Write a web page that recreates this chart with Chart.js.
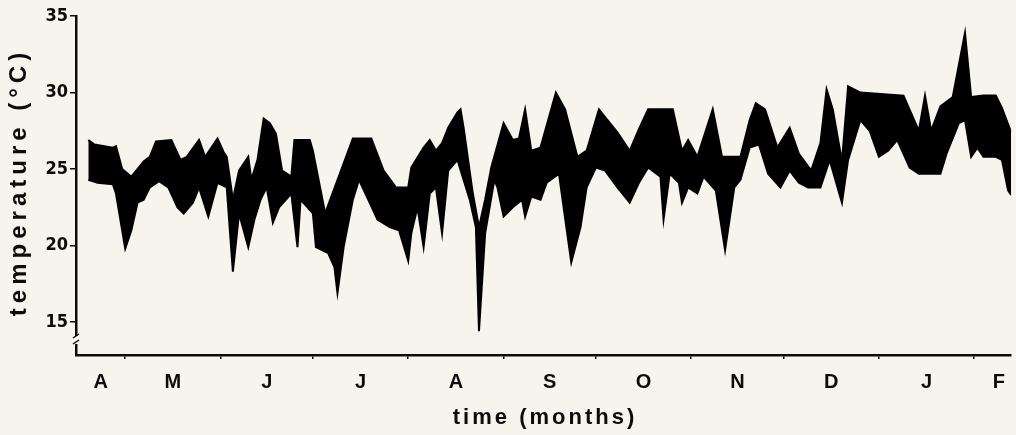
<!DOCTYPE html>
<html>
<head>
<meta charset="utf-8">
<script src="https://cdn.jsdelivr.net/npm/chart.js@4"></script>
<style>
  html, body { margin: 0; padding: 0; background: #f6f4ec; }
  #wrap { width: 1016px; height: 435px; }
</style>
</head>
<body>
<div id="wrap"><canvas id="chart"></canvas></div>
<script>
// days counted from 1 April (day 0); temperatures in °C
const upperDays = [18, 20, 26, 27, 29, 32, 36, 38, 40, 45, 48, 50, 54, 56, 60, 62, 63, 65, 67, 70, 71, 73, 75, 77, 79, 81, 84, 85, 90, 91, 95, 104, 110, 114, 118, 122, 123, 127, 129, 131, 133, 135, 138, 139, 140, 143, 145, 147, 149, 153, 156, 158, 160, 162, 165, 170, 173, 177, 180, 184, 186, 190, 194, 197, 200, 208, 211, 213, 216, 221, 224, 230, 233, 235, 238, 242, 246, 249, 253, 256, 258, 260, 263, 265, 269, 283, 288, 290, 292, 295, 299, 303, 305, 309, 313, 315, 318];
const upperTemps = [26.9, 26.6, 26.4, 26.5, 25.0, 24.5, 25.5, 25.8, 26.8, 26.9, 25.6, 25.8, 26.9, 25.8, 27.0, 26.1, 25.8, 23.0, 24.9, 25.8, 24.3, 25.6, 28.3, 28.0, 27.3, 24.9, 24.5, 26.9, 26.9, 26.2, 22.1, 27.0, 27.0, 24.9, 23.8, 23.8, 25.1, 26.4, 26.9, 26.2, 26.7, 27.7, 28.7, 28.9, 27.7, 23.4, 21.2, 23.0, 25.1, 28.0, 26.9, 27.0, 28.9, 26.2, 26.4, 30.0, 28.9, 25.8, 26.2, 28.9, 28.4, 27.4, 26.2, 27.6, 28.9, 28.9, 26.2, 26.9, 25.8, 28.9, 25.8, 25.8, 28.2, 29.3, 28.9, 26.4, 27.7, 26.0, 24.9, 26.7, 30.2, 28.9, 25.5, 30.4, 30.0, 29.8, 27.5, 29.8, 27.5, 29.1, 29.7, 33.9, 29.7, 29.8, 29.8, 29.0, 27.4];

const lowerDays = [18, 21, 26, 27, 30, 32, 34, 36, 38, 41, 44, 47, 49, 52, 54, 57, 60, 63, 65, 67, 70, 72, 74, 76, 78, 80, 84, 86, 87, 91, 92, 96, 98, 99, 101, 104, 106, 109, 112, 116, 119, 122, 123, 125, 127, 129, 131, 133, 135, 138, 142, 144, 145, 147, 150, 151, 153, 156, 159, 160, 162, 165, 167, 171, 175, 178, 180, 183, 186, 190, 194, 197, 200, 204, 205, 207, 210, 211, 213, 216, 218, 222, 225, 228, 230, 233, 236, 239, 243, 246, 249, 252, 256, 259, 263, 265, 269, 272, 275, 278, 281, 285, 288, 295, 297, 301, 303, 305, 307, 309, 313, 315, 317, 318];
const lowerTemps = [24.3, 24.1, 24.0, 23.4, 19.8, 21.0, 22.8, 23.0, 23.8, 24.2, 23.8, 22.5, 22.1, 22.8, 23.8, 21.9, 24.1, 23.8, 18.3, 22.1, 19.9, 21.7, 23.0, 23.8, 21.5, 22.5, 23.4, 19.9, 23.0, 22.1, 19.9, 19.5, 18.6, 16.9, 19.9, 23.0, 24.3, 23.0, 21.7, 21.2, 21.0, 19.0, 20.8, 22.5, 19.9, 23.4, 23.8, 20.8, 24.9, 25.6, 23.0, 21.2, 14.4, 20.8, 24.3, 23.8, 21.9, 22.5, 23.0, 21.9, 23.2, 23.0, 24.1, 24.7, 18.9, 21.2, 23.8, 25.1, 24.9, 23.8, 22.8, 24.1, 25.1, 24.5, 21.7, 24.7, 24.1, 22.8, 23.8, 23.4, 24.5, 23.6, 19.7, 23.8, 24.3, 26.4, 26.6, 24.7, 23.8, 24.9, 24.1, 23.8, 23.8, 25.6, 22.8, 25.6, 28.2, 27.5, 25.8, 26.2, 26.9, 25.1, 24.7, 24.7, 26.0, 28.0, 28.2, 25.8, 26.4, 25.8, 25.8, 25.6, 23.6, 23.3];

// month boundaries (tick marks) and month label positions
const monthStarts = [30, 61, 91, 122, 153, 183, 214, 244, 275, 306];
const monthMids = [22, 45.5, 76, 106.5, 137.5, 168, 198.5, 229, 259.5, 290.5, 314];
const monthLabels = ['A', 'M', 'J', 'J', 'A', 'S', 'O', 'N', 'D', 'J', 'F'];
const yTicks = [15, 20, 25, 30, 35];

const xTitle = 'time (months)';
const yTitle = 'temperature (°C)';

const BG = '#f6f4ec';
const INK = '#0c0c0c';

const paper = {
  id: 'paper',
  beforeDraw(chart) {
    const { ctx, width, height } = chart;
    ctx.save();
    ctx.fillStyle = BG;
    ctx.fillRect(0, 0, width, height);
    ctx.restore();
  },
  afterDraw(chart) {
    const { ctx, chartArea: a } = chart;
    ctx.save();
    ctx.fillStyle = INK;
    ctx.textAlign = 'center';
    ctx.textBaseline = 'middle';
    ctx.letterSpacing = '3px';
    ctx.font = 'bold 22px "Liberation Sans", Arial, sans-serif';
    ctx.fillText(xTitle, 545, a.bottom + 63);
    ctx.save();
    ctx.translate(19, 182);
    ctx.rotate(-Math.PI / 2);
    ctx.letterSpacing = '5px';
    ctx.font = 'bold 24px "Liberation Sans", Arial, sans-serif';
    ctx.fillText(yTitle, 0, 0);
    ctx.restore();

    // axis break on the y axis
    const yb = a.bottom - 15;
    ctx.fillStyle = BG;
    ctx.fillRect(a.left - 3, yb - 4, 6, 8);
    ctx.strokeStyle = INK;
    ctx.lineWidth = 1.5;
    ctx.beginPath();
    ctx.moveTo(a.left - 3, yb - 2);
    ctx.lineTo(a.left + 3, yb - 6);
    ctx.moveTo(a.left - 3, yb + 4);
    ctx.lineTo(a.left + 3, yb);
    ctx.stroke();
    ctx.restore();
  }
};

const toPoints = (days, temps) => days.map((d, i) => ({ x: d, y: temps[i] }));

new Chart(document.getElementById('chart'), {
  type: 'line',
  data: {
    datasets: [
      {
        label: 'minimum',
        data: toPoints(lowerDays, lowerTemps),
        borderColor: '#000',
        borderWidth: 2,
        pointRadius: 0,
        tension: 0,
        fill: false
      },
      {
        label: 'maximum',
        data: toPoints(upperDays, upperTemps),
        borderColor: '#000',
        backgroundColor: '#000',
        borderWidth: 2,
        pointRadius: 0,
        tension: 0,
        fill: '-1'
      }
    ]
  },
  options: {
    responsive: true,
    maintainAspectRatio: false,
    animation: false,
    events: [],
    layout: { padding: { top: 16, right: 4, left: 0, bottom: 0 } },
    plugins: {
      legend: { display: false },
      tooltip: { enabled: false }
    },
    scales: {
      x: {
        type: 'linear',
        min: 14,
        max: 318,
        afterBuildTicks: (scale) => {
          scale.ticks = monthStarts.concat(monthMids)
            .sort((p, q) => p - q)
            .map(v => ({ value: v }));
        },
        afterFit: (scale) => { scale.height = 80; },
        border: { display: true, color: INK, width: 2.5 },
        grid: {
          drawOnChartArea: false,
          drawTicks: true,
          tickLength: 4,
          lineWidth: 1.5,
          color: (c) => (c.tick && monthStarts.includes(c.tick.value)) ? INK : 'rgba(0,0,0,0)'
        },
        ticks: {
          autoSkip: false,
          maxRotation: 0,
          padding: 11,
          color: INK,
          font: { family: '"Liberation Sans", Arial, sans-serif', size: 20, weight: 'bold' },
          callback: (v) => {
            const i = monthMids.indexOf(v);
            return i >= 0 ? monthLabels[i] : '';
          }
        }
      },
      y: {
        min: 12.85,
        max: 35,
        afterBuildTicks: (scale) => {
          scale.ticks = yTicks.map(v => ({ value: v }));
        },
        afterFit: (scale) => { scale.width = 76; },
        border: { display: true, color: INK, width: 2.5 },
        grid: {
          drawOnChartArea: false,
          drawTicks: true,
          tickLength: 6,
          lineWidth: 1.5,
          color: INK
        },
        ticks: {
          padding: 2,
          color: INK,
          font: { family: '"Liberation Sans Narrow", "DejaVu Sans Condensed", Arial, sans-serif', size: 18, weight: 'bold' }
        }
      }
    }
  },
  plugins: [paper]
});
</script>
</body>
</html>
